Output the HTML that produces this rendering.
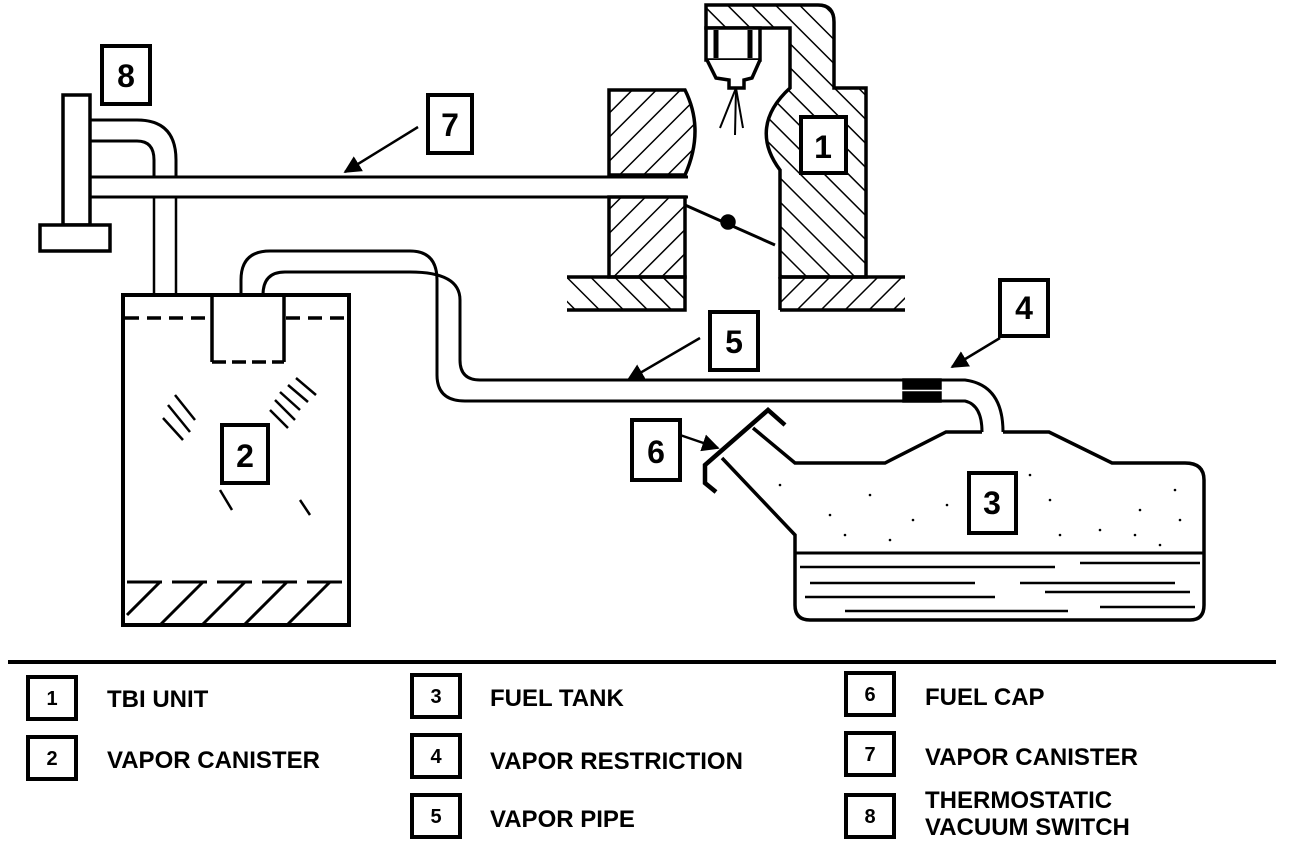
<!DOCTYPE html>
<html><head><meta charset="utf-8"><style>
html,body{margin:0;padding:0;background:#fff;}
svg{display:block;}
text{font-family:"Liberation Sans",sans-serif;font-weight:bold;fill:#000;}
</style></head><body>
<svg width="1296" height="848" viewBox="0 0 1296 848" xmlns="http://www.w3.org/2000/svg">
<defs>
<pattern id="hb" patternUnits="userSpaceOnUse" width="17" height="17" patternTransform="rotate(45)">
<line x1="0" y1="0" x2="0" y2="17" stroke="#000" stroke-width="3"/></pattern>
<pattern id="hf" patternUnits="userSpaceOnUse" width="17" height="17" patternTransform="rotate(-45)">
<line x1="0" y1="0" x2="0" y2="17" stroke="#000" stroke-width="3"/></pattern>
<marker id="ar" viewBox="0 0 10 10" refX="9" refY="5" markerWidth="7" markerHeight="7" orient="auto"><path d="M0,0 L10,5 L0,10 z" fill="#000"/></marker>
</defs>
<g fill="none" stroke="#000" stroke-width="3.5">
<!-- TBI right block -->
<path d="M706,5 L818,5 Q834,5 834,22 L834,88 L866,88 L866,277 L780,277 L780,170 C765,150 755,120 790,88 L790,28 L706,28 Z" fill="url(#hf)"/>
<rect x="706" y="28" width="54" height="32" fill="#fff"/>
<line x1="716" y1="30" x2="716" y2="58" stroke-width="5"/>
<line x1="750" y1="30" x2="750" y2="58" stroke-width="5"/>
<path d="M707,60 L716,78 L729,80 L729,88 L744,88 L744,80 L752,78 L760,60" fill="#fff"/>
<g stroke-width="2"><line x1="736" y1="88" x2="720" y2="128"/><line x1="736" y1="88" x2="735" y2="135"/><line x1="736" y1="88" x2="743" y2="128"/></g>
<!-- left blocks -->
<path d="M609,90 L685,90 Q705,130 685,175 L609,175 Z" fill="url(#hb)"/>
<rect x="609" y="197" width="76" height="80" fill="url(#hb)"/>
<path d="M567,277 L685,277 L685,310 L567,310" fill="url(#hf)"/>
<rect x="780" y="277" width="125" height="33" fill="url(#hb)" stroke="none"/>
<path d="M780,277 L905,277 M780,310 L905,310 M780,277 L780,310" />
<path d="M685,205 L775,245" stroke-width="3"/>
<circle cx="728" cy="222" r="6" fill="#000"/>
<!-- pipe 7 -->
<path d="M89,177 L688,177 M89,197 L688,197" stroke-width="3"/>
<!-- switch -->
<rect x="63" y="95" width="27" height="130" fill="#fff"/>
<rect x="40" y="225" width="70" height="26" fill="#fff"/>
<path d="M90,120 L137,120 Q176,120 176,160 L176,177 M90,141 L137,141 Q154,141 154,160 L154,177" stroke-width="3"/>
<path d="M154,197 L154,295 M176,197 L176,295" stroke-width="2.5"/>
<!-- canister -->
<rect x="123" y="295" width="226" height="330" stroke-width="4"/>
<path d="M125,318 L210,318 M286,318 L348,318" stroke-dasharray="14,8"/>
<path d="M212,295 L212,362 M284,295 L284,362"/>
<path d="M212,362 L284,362" stroke-dasharray="14,6"/>
<path d="M127,582 L345,582" stroke-dasharray="35,10" stroke-width="3"/>
<g stroke-width="3"><line x1="160" y1="582" x2="127" y2="615"/><line x1="203" y1="582" x2="160" y2="625"/><line x1="245" y1="582" x2="202" y2="625"/><line x1="287" y1="582" x2="244" y2="625"/><line x1="330" y1="582" x2="287" y2="625"/></g>
<g stroke-width="2.5"><line x1="175" y1="395" x2="195" y2="420"/><line x1="168" y1="405" x2="190" y2="432"/><line x1="163" y1="418" x2="183" y2="440"/><line x1="275" y1="400" x2="295" y2="420"/><line x1="280" y1="392" x2="300" y2="410"/><line x1="288" y1="385" x2="308" y2="402"/><line x1="296" y1="378" x2="316" y2="395"/><line x1="270" y1="410" x2="288" y2="428"/><line x1="220" y1="490" x2="232" y2="510"/><line x1="300" y1="500" x2="310" y2="515"/></g>
<!-- pipe 5 -->
<path d="M241,295 L241,280 Q241,251 270,251 L410,251 Q437,251 437,280 L437,375 Q437,401 465,401 L904,401" stroke-width="3"/>
<path d="M263,295 Q263,272 285,272 L410,272 Q460,272 460,300 L460,360 Q460,380 480,380 L904,380" stroke-width="3"/>
<rect x="904" y="380" width="36" height="8" fill="#000"/>
<rect x="904" y="393" width="36" height="8" fill="#000"/>
<path d="M940,380 L965,380 Q1003,385 1003,432 M940,401 L965,401 Q982,405 982,432" stroke-width="3"/>
<!-- tank -->
<path d="M753,428 L795,463 L885,463 L946,432 L982,432 M1003,432 L1049,432 L1112,463 L1185,463 Q1204,463 1204,480 L1204,605 Q1204,620 1190,620 L810,620 Q795,620 795,605 L795,535 L722,458" stroke-width="3.5"/>
<line x1="795" y1="553" x2="1204" y2="553" stroke-width="3"/>
<g stroke-width="2.5"><line x1="800" y1="567" x2="1055" y2="567"/><line x1="1080" y1="563" x2="1200" y2="563"/><line x1="810" y1="583" x2="975" y2="583"/><line x1="1020" y1="583" x2="1175" y2="583"/><line x1="1045" y1="592" x2="1190" y2="592"/><line x1="805" y1="597" x2="995" y2="597"/><line x1="845" y1="611" x2="1068" y2="611"/><line x1="1100" y1="607" x2="1195" y2="607"/></g>
<g fill="#000" stroke="none"><circle cx="780" cy="485" r="1.3"/><circle cx="830" cy="515" r="1.3"/><circle cx="870" cy="495" r="1.3"/><circle cx="913" cy="520" r="1.3"/><circle cx="947" cy="505" r="1.3"/><circle cx="1050" cy="500" r="1.3"/><circle cx="1060" cy="535" r="1.3"/><circle cx="1100" cy="530" r="1.3"/><circle cx="1140" cy="510" r="1.3"/><circle cx="1175" cy="490" r="1.3"/><circle cx="1180" cy="520" r="1.3"/><circle cx="845" cy="535" r="1.3"/><circle cx="890" cy="540" r="1.3"/><circle cx="1030" cy="475" r="1.3"/><circle cx="1135" cy="535" r="1.3"/><circle cx="1160" cy="545" r="1.3"/></g>
<path d="M785,425 L768,410 L705,465 L705,483 L716,492" stroke-width="4.5"/>
<!-- label boxes -->
<g stroke-width="4">
<rect x="102" y="46" width="48" height="58" fill="#fff"/>
<rect x="428" y="95" width="44" height="58" fill="#fff"/>
<rect x="801" y="117" width="45" height="56" fill="#fff"/>
<rect x="222" y="425" width="46" height="58" fill="#fff"/>
<rect x="969" y="473" width="47" height="60" fill="#fff"/>
<rect x="1000" y="280" width="48" height="56" fill="#fff"/>
<rect x="710" y="312" width="48" height="58" fill="#fff"/>
<rect x="632" y="420" width="48" height="60" fill="#fff"/>
</g>
<g stroke-width="2.5"><line x1="418" y1="127" x2="345" y2="172" marker-end="url(#ar)"/><line x1="700" y1="338" x2="628" y2="380" marker-end="url(#ar)"/><line x1="1000" y1="338" x2="952" y2="367" marker-end="url(#ar)"/><line x1="680" y1="435" x2="718" y2="448" marker-end="url(#ar)"/></g>
<!-- legend -->
<line x1="8" y1="662" x2="1276" y2="662" stroke-width="4"/>
<g stroke-width="4">
<rect x="28" y="677" width="48" height="42"/><rect x="28" y="737" width="48" height="42"/>
<rect x="412" y="675" width="48" height="42"/><rect x="412" y="735" width="48" height="42"/><rect x="412" y="795" width="48" height="42"/>
<rect x="846" y="673" width="48" height="42"/><rect x="846" y="733" width="48" height="42"/><rect x="846" y="795" width="48" height="42"/>
</g>
</g>
<g font-size="32" text-anchor="middle">
<text x="126" y="87">8</text><text x="450" y="136">7</text><text x="823" y="158">1</text><text x="245" y="467">2</text><text x="992" y="514">3</text><text x="1024" y="319">4</text><text x="734" y="353">5</text><text x="656" y="463">6</text>
</g>
<g font-size="20" text-anchor="middle">
<text x="52" y="705">1</text><text x="52" y="765">2</text><text x="436" y="703">3</text><text x="436" y="763">4</text><text x="436" y="823">5</text><text x="870" y="701">6</text><text x="870" y="761">7</text><text x="870" y="823">8</text>
</g>
<g font-size="24">
<text x="107" y="707">TBI UNIT</text><text x="107" y="768">VAPOR CANISTER</text>
<text x="490" y="706">FUEL TANK</text><text x="490" y="769">VAPOR RESTRICTION</text><text x="490" y="827">VAPOR PIPE</text>
<text x="925" y="705">FUEL CAP</text><text x="925" y="765">VAPOR CANISTER</text><text x="925" y="808">THERMOSTATIC</text><text x="925" y="835">VACUUM SWITCH</text>
</g>
</svg>
</body></html>
